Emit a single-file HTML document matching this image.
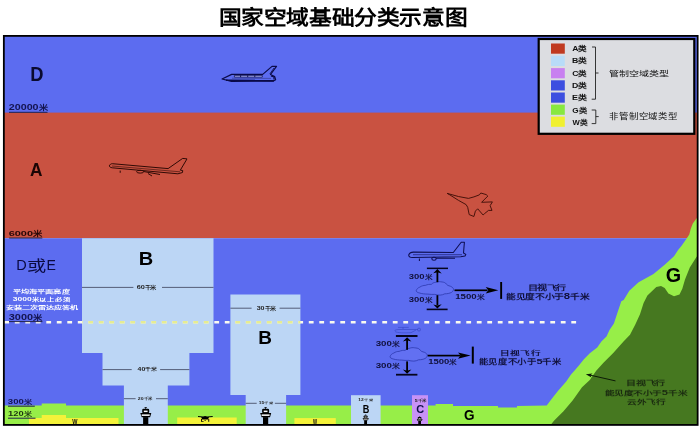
<!DOCTYPE html>
<html lang="zh-CN"><head><meta charset="utf-8">
<style>
html,body{margin:0;padding:0;background:#fff;}
body{width:700px;height:430px;overflow:hidden;font-family:"Liberation Sans",sans-serif;}
svg{display:block;will-change:transform;}
</style></head><body>
<svg width="700" height="430" viewBox="0 0 700 430">
<defs>
  <g id="tower">
    <rect x="-1.2" y="-17" width="2.4" height="0.7" fill="#000"/>
    <rect x="-0.4" y="-16.6" width="0.8" height="1.5" fill="#000"/>
    <rect x="-3.5" y="-15.3" width="7" height="4.6" rx="1.4" fill="#000"/>
    <rect x="-1.9" y="-13.4" width="3.8" height="1.5" fill="#fff"/>
    <path d="M-5.4,-10.9 L5.6,-10.9 L4.4,-6.8 L-4,-6.8 Z" fill="#000"/>
    <rect x="-4" y="-9.6" width="8" height="1.5" fill="#fff"/>
    <rect x="-2.6" y="-6.9" width="5.2" height="7" fill="#000"/>
  </g>
</defs>
<!-- bands -->
<rect x="4" y="36" width="694" height="77" fill="#5c6cf0"/>
<rect x="4" y="112.6" width="694" height="125.6" fill="#c95241"/>
<rect x="4" y="238.2" width="694" height="187" fill="#5c6cf0"/>
<!-- ground green -->
<path d="M4,405.6 L41.7,405.6 L41.7,403.5 L66,403.5 L66,405.6 L435.6,405.6 L435.6,404 L453,404 L453,406 L498,406 L498,407.6 L517,407.6 L517,406 L546.7,405.4 L551.4,399.3 L557.9,390.9 L566.2,381.6 L571.2,374.2 L574.6,370.4 L579.3,364.9 L583.9,359.3 L589.8,353.3 L597.2,347.6 L601.4,341.6 L606.5,336.5 L609.5,330 L613.9,323.5 L617.6,312.3 L621.3,301.2 L623.7,300 L629.3,290.7 L638.6,282.3 L653.5,274 L664.7,264.7 L674,256.3 L678.1,250 L681.4,246 L686.5,238.8 L689.3,234.6 L690.7,229 L692.8,223.4 L696.5,218.6 L698,217 L698,425 L4,425 Z" fill="#97ee48"/>
<!-- dark green -->
<path d="M551.4,424 L554.2,420.6 L563.5,411.3 L572.8,400.2 L582,387.2 L589.8,380 L596.2,370.7 L603.7,362.6 L613,353.3 L623.5,341.6 L630,334.7 L635.3,324.4 L640,314.2 L643.6,303 L647.4,295.6 L651.6,291.6 L656.3,287 L661,286 L664.7,287.9 L668.4,293.5 L674,296.3 L679.5,294.4 L682.3,288.8 L685,279.5 L689.8,267.4 L696.3,257.2 L698,255 L698,425 L551.4,425 Z" fill="#467820"/>
<!-- yellow W -->
<path d="M29,418 L41.7,418 L41.7,415 L66,415 L66,418 L118.5,418 L118.5,424 L29,424 Z" fill="#f4f23a"/>
<rect x="177.2" y="417.5" width="59.5" height="7" fill="#f4f23a"/>
<rect x="294.4" y="418.1" width="41.4" height="6" fill="#f4f23a"/>
<!-- B1 -->
<path d="M82,238.2 L213.5,238.2 L213.5,353 L189.4,353 L189.4,385.5 L167.8,385.5 L167.8,424 L123.9,424 L123.9,385.5 L102.5,385.5 L102.5,353 L82,353 Z" fill="#bcd6f5"/>
<!-- B2 -->
<path d="M230.4,294.6 L300.4,294.6 L300.4,395 L286.1,395 L286.1,424 L245.7,424 L245.7,395 L230.4,395 Z" fill="#bcd6f5"/>
<!-- small B, C -->
<rect x="351" y="395.2" width="29.6" height="29" fill="#bcd6f5"/>
<rect x="412" y="395.2" width="16" height="29" fill="#c892f6"/>
<!-- dashed 3000 line -->
<line x1="4.3" y1="322.2" x2="577" y2="322.2" stroke="#fafaf0" stroke-width="2.6" stroke-dasharray="4.8 5.7"/>
<!-- km lines -->
<g stroke="#48506a" stroke-width="0.9">
<path d="M82,287.4 H133.4 M162,287.4 H213.5"/>
<path d="M102.5,369.6 H131.7 M160.1,369.6 H189.4"/>
<path d="M123.9,398.7 H135.6 M156,398.7 H167.8"/>
<path d="M230.4,308.2 H251.6 M279.6,308.2 H300.4"/>
<path d="M245.7,403.3 H256.7 M274.9,403.3 H286.1"/>
</g>
<!-- underlines -->
<g stroke="#20204a" stroke-width="1">
<path d="M9,112.3 H47.5"/>
<path d="M9.2,238 H42.3"/>
<path d="M9,321.6 H42.4"/>
<path d="M8,406.2 H34.8"/>
<path d="M8,418.2 H35.5"/>
</g>
<!-- yellow dashes on B -->
<clipPath id="bclip"><rect x="82" y="318" width="131.5" height="8"/><rect x="230.4" y="318" width="70" height="8"/></clipPath>
<line x1="4.3" y1="322.2" x2="577" y2="322.2" stroke="#e6ec92" stroke-width="2.6" stroke-dasharray="4.8 5.7" clip-path="url(#bclip)"/>
<!-- shuttle -->
<g fill="none" stroke="#0a0a48" stroke-width="1.2" stroke-linejoin="round">
 <path d="M222,79 L231.7,74.4 L262.7,74.4 L272,66.4 L276.5,66.4 L270.5,74.5 L274.7,76.6 L275.6,79.7 L273,81.2 L231.5,81.3 Z"/>
 <path d="M234.4,75.4 H262.3 V77.1 H234.4 Z" fill="#aeb6f6" stroke-width="0.7"/>
 <path d="M240.6,75.3 V77.1 M247.7,75.3 V77.1 M254.8,75.3 V77.1" stroke-width="0.9"/>
 <path d="M226,80.2 L274,80.6" stroke-width="1.6"/>
 <path d="M232,78.2 L271,78.4" stroke-width="0.5" stroke="#2a2a70"/>
 <path d="M274,68 L269.8,74" stroke-width="0.8"/>
 <path d="M271,76 L274,77 L274,79.5" stroke-width="1.2"/>
</g>
<!-- airliner on red -->
<g fill="none" stroke="#300a05" stroke-width="1" stroke-linejoin="round">
 <path d="M109.3,165.9 C110,164.3 111,163.7 112.3,163.7 L168.1,168.6 L182.7,158.4 L187,158.9 L180.3,170.2 L182.7,170.5 L182.5,172.5 L177.9,173.8 L112.3,167.8 C110.5,167.5 109.3,166.8 109.3,165.9 Z"/>
 <path d="M112,166 L180,171.8" stroke-width="0.6"/>
 <ellipse cx="140.2" cy="171.7" rx="3.6" ry="1.4"/>
 <path d="M143.5,171.5 L160,174.5 M148,173.5 L152,176 M120.2,170.6 V172.8"/>
</g>
<!-- fighter -->
<path d="M447.2,193.4 L458.4,196.5 L468.5,198.4 L473.9,196.9 L479.3,194.9 L480.8,193 L486.2,194.6 L487.8,196.1 L481.6,202.3 L492.4,201.9 L490.1,205.7 L492,210.4 L488.5,210.4 L484.7,213.5 L483.1,215 L477.7,208.8 L475.4,211.1 L473.9,216.5 L469.2,214.6 L467.7,207.3 L466.1,204.6 L458.4,200.3 L449.9,194.9 Z" fill="none" stroke="#3a0c06" stroke-width="0.9" stroke-linejoin="round"/>
<!-- airliner on blue -->
<g fill="none" stroke="#0e0e50" stroke-width="1.05" stroke-linejoin="round">
 <path d="M408.7,254.9 C409.5,253 411,252.1 413.4,252.1 L453.3,252.5 L461.2,242.3 L464.4,242.3 L463.5,253 L465.8,254.4 L465,256 L460.7,256.7 L412.4,257.6 C410.5,257.4 408.7,256.3 408.7,254.9 Z"/>
 <path d="M413,254.7 L462,254.7" stroke-width="0.6"/>
 <ellipse cx="434" cy="258.8" rx="2.2" ry="1.5"/>
 <path d="M436,258.3 L455,258.3 M419.4,258.6 V261"/>
</g>
<!-- helicopter -->
<g fill="none" stroke="#2c3ab8" stroke-width="0.6" opacity="0.8">
 <path d="M398,327.4 H408.7 M403,327.4 V329 M394.5,331 C395,329.8 397,329.5 400,329.5 L418,329.5 M395,331.5 C397,333 405,333 411,332.7 L416,330"/>
 <circle cx="419" cy="329.6" r="1.5"/>
</g>
<!-- drone -->
<g fill="#000">
 <path d="M198,416 L203,416.6 L205.1,416 L207.2,416.6 L212.7,416 L212.7,416.9 L209,417.3 L208,419.6 L202.2,419.6 L201.2,417.3 L198,416.9 Z"/>
 <rect x="201.1" y="419" width="0.9" height="2.8"/>
 <rect x="208.3" y="419" width="0.9" height="2.8"/>
 <rect x="202" y="421" width="1.6" height="0.7"/>
 <rect x="204.5" y="420.2" width="1.3" height="0.7"/>
</g>
<!-- cloud groups -->
<path id="cloud" d="M390,356.8 C390.5,355 392,353.6 393.7,353.1 C395.5,351.8 397.5,351.4 399.1,351.4 C401.5,350.4 403.5,350.2 405.1,350.4 C406.3,349 407.8,348.5 409.2,348.4 C411,347.6 412.8,347.5 414.5,347.8 C416.5,348 418.2,348.3 419.2,349 C420,350 420.8,350.9 421.6,351.4 C422.6,351.8 423.7,352 424.6,352.4 C426.3,353.2 427.3,354.3 427.3,355.4 C427,356.9 426.3,357.8 425.3,358.4 C423.3,359.4 421,359.8 418.6,359.8 C417,360.6 415.5,361.1 413.9,361.1 C411.8,361.1 410,360.8 408.5,360.4 C406,360.5 404,360.4 401.8,360.1 C398.5,360 396,359.8 393.7,359.1 C391.5,358.6 390,357.8 390,356.8 Z" fill="#6270f2" stroke="#2a36aa" stroke-width="0.75"/>
<use href="#cloud" transform="translate(26.2,-66)"/>
<g fill="#000" stroke="none">
 <rect x="426.9" y="267.6" width="21.1" height="1.5" fill="#05051e"/>
 <rect x="426.7" y="308.6" width="20.9" height="1.6" fill="#05051e"/>
 <rect x="436.5" y="272" width="1.8" height="10.2"/>
 <path d="M437.4,269.1 L441.7,273.5 L437.4,272.2 L433.3,273.3 Z"/>
 <rect x="436.5" y="295.2" width="1.8" height="10"/>
 <path d="M437.4,308.6 L441.7,304.3 L437.4,305.6 L433.3,304.4 Z"/>
 <rect x="454.5" y="289.45" width="33" height="1.7"/>
 <path d="M498.3,290.3 L485.7,287.1 L488.3,290.3 L485.7,293.4 Z"/>
 <rect x="500.2" y="282" width="1.9" height="16.9"/>

 <rect x="395.9" y="335" width="21.6" height="2" fill="#05051e"/>
 <rect x="396" y="373.8" width="21.4" height="1.8" fill="#05051e"/>
 <rect x="406.2" y="340" width="1.8" height="9.8"/>
 <path d="M407.1,337.2 L411.4,341.6 L407.1,340.3 L402.9,341.4 Z"/>
 <rect x="406.2" y="361.4" width="1.8" height="9.6"/>
 <path d="M407.1,373.7 L411.4,369.4 L407.1,370.7 L402.9,369.5 Z"/>
 <rect x="427.7" y="354.75" width="33" height="1.7"/>
 <path d="M470.6,355.6 L458,352.4 L460.6,355.6 L458,358.7 Z"/>
 <rect x="471.8" y="346.6" width="2" height="17"/>
</g>
<!-- mountain arrow -->
<path d="M615.5,380.9 L590,375.1" stroke="#0c1a06" stroke-width="1"/>
<path d="M585.8,374.2 L592.5,373.4 L590.5,375.3 L591.5,377.6 Z" fill="#0c1a06"/>
<!-- towers -->
<use href="#tower" transform="translate(145.7,424)"/>
<use href="#tower" transform="translate(265.6,424)"/>
<use href="#tower" transform="translate(365.6,424) scale(0.55)"/>
<use href="#tower" transform="translate(419.6,424) scale(0.52,0.45)"/>
<!-- frame -->
<rect x="3.85" y="35.9" width="693.8" height="389" fill="none" stroke="#000" stroke-width="1.8"/>
<!-- legend -->
<rect x="538.7" y="39" width="155.6" height="94.8" fill="#dcdde1" stroke="#000" stroke-width="2.2"/>
<rect x="551" y="43.5" width="13.8" height="10.2" fill="#c03a20"/>
<rect x="551" y="55.8" width="13.8" height="10.2" fill="#b8dcf8"/>
<rect x="551" y="68.1" width="13.8" height="10.2" fill="#c880f0"/>
<rect x="551" y="80.3" width="13.8" height="10.2" fill="#3c4ee0"/>
<rect x="551" y="92.5" width="13.8" height="10.2" fill="#3c4ee0"/>
<rect x="551" y="104.6" width="13.8" height="10.2" fill="#88e840"/>
<rect x="551" y="116.6" width="13.8" height="10.2" fill="#f0f030"/>
<path d="M592,47 H595.5 V99.2 H591.7 M595.5,73 H598.5 M591.7,110 H595.8 V123.6 H591.7 M595.8,116.6 H598.7" fill="none" stroke="#222" stroke-width="0.9"/>

<text x="218.50" y="24.50" font-size="20.11" font-weight="bold" style="font-family:'Liberation Serif',serif" fill="#000" textLength="248.83" lengthAdjust="spacingAndGlyphs">国家空域基础分类示意图</text>
<text x="30.25" y="80.75" font-size="19.89" font-weight="bold" style="font-family:'Liberation Sans',sans-serif" fill="#0a0a30" textLength="13.25" lengthAdjust="spacingAndGlyphs">D</text>
<text x="8.75" y="109.85" font-size="8.37" font-weight="bold" style="font-family:'Liberation Sans',sans-serif" fill="#141450" textLength="38.82" lengthAdjust="spacingAndGlyphs">20000<tspan font-size="7.12">米</tspan></text>
<text x="30.00" y="176.20" font-size="18.02" font-weight="bold" style="font-family:'Liberation Sans',sans-serif" fill="#1a0505" textLength="12.47" lengthAdjust="spacingAndGlyphs">A</text>
<text x="8.70" y="236.30" font-size="8.11" font-weight="bold" style="font-family:'Liberation Sans',sans-serif" fill="#250606" textLength="33.85" lengthAdjust="spacingAndGlyphs">6000<tspan font-size="6.89">米</tspan></text>
<text x="16.15" y="270.15" font-size="14.09" font-weight="normal" style="font-family:'Liberation Sans',sans-serif" fill="#0a0a40" textLength="10.48" lengthAdjust="spacingAndGlyphs">D</text>
<text x="26.75" y="270.65" font-size="15.04" font-weight="normal" style="font-family:'Liberation Sans',sans-serif" fill="#0a0a40" textLength="19.22" lengthAdjust="spacingAndGlyphs">或</text>
<text x="46.45" y="270.15" font-size="14.09" font-weight="normal" style="font-family:'Liberation Sans',sans-serif" fill="#0a0a40" textLength="9.39" lengthAdjust="spacingAndGlyphs">E</text>
<text x="13.35" y="293.00" font-size="5.12" font-weight="bold" style="font-family:'Liberation Sans',sans-serif" fill="#fff" textLength="56.20" lengthAdjust="spacingAndGlyphs">平均海平面高度</text>
<text x="12.75" y="300.95" font-size="5.54" font-weight="bold" style="font-family:'Liberation Sans',sans-serif" fill="#fff" textLength="57.57" lengthAdjust="spacingAndGlyphs">3000<tspan font-size="4.77">米以上必须</tspan></text>
<text x="5.55" y="308.70" font-size="5.00" font-weight="bold" style="font-family:'Liberation Sans',sans-serif" fill="#fff" textLength="72.76" lengthAdjust="spacingAndGlyphs">安装二次雷达应答机</text>
<text x="8.75" y="319.75" font-size="8.36" font-weight="bold" style="font-family:'Liberation Sans',sans-serif" fill="#141450" textLength="33.51" lengthAdjust="spacingAndGlyphs">3000<tspan font-size="7.11">米</tspan></text>
<text x="7.85" y="404.15" font-size="7.03" font-weight="bold" style="font-family:'Liberation Sans',sans-serif" fill="#141450" textLength="24.15" lengthAdjust="spacingAndGlyphs">300<tspan font-size="5.98">米</tspan></text>
<text x="8.00" y="415.80" font-size="6.82" font-weight="bold" style="font-family:'Liberation Sans',sans-serif" fill="#1a3010" textLength="23.91" lengthAdjust="spacingAndGlyphs">120<tspan font-size="5.80">米</tspan></text>
<text x="138.75" y="264.85" font-size="18.45" font-weight="bold" style="font-family:'Liberation Sans',sans-serif" fill="#000" textLength="14.46" lengthAdjust="spacingAndGlyphs">B</text>
<text x="136.65" y="289.40" font-size="5.17" font-weight="bold" style="font-family:'Liberation Sans',sans-serif" fill="#222" textLength="19.50" lengthAdjust="spacingAndGlyphs">60<tspan font-size="4.45">千米</tspan></text>
<text x="137.60" y="371.35" font-size="4.84" font-weight="bold" style="font-family:'Liberation Sans',sans-serif" fill="#222" textLength="19.22" lengthAdjust="spacingAndGlyphs">40<tspan font-size="4.16">千米</tspan></text>
<text x="137.85" y="399.90" font-size="3.33" font-weight="bold" style="font-family:'Liberation Sans',sans-serif" fill="#222" textLength="14.97" lengthAdjust="spacingAndGlyphs">20<tspan font-size="2.86">千米</tspan></text>
<text x="256.65" y="310.00" font-size="5.17" font-weight="bold" style="font-family:'Liberation Sans',sans-serif" fill="#222" textLength="18.81" lengthAdjust="spacingAndGlyphs">30<tspan font-size="4.45">千米</tspan></text>
<text x="258.25" y="344.05" font-size="18.45" font-weight="bold" style="font-family:'Liberation Sans',sans-serif" fill="#000" textLength="13.69" lengthAdjust="spacingAndGlyphs">B</text>
<text x="258.65" y="404.45" font-size="2.96" font-weight="bold" style="font-family:'Liberation Sans',sans-serif" fill="#222" textLength="15.59" lengthAdjust="spacingAndGlyphs">15<tspan font-size="2.54">千米</tspan></text>
<text x="358.35" y="401.05" font-size="2.92" font-weight="bold" style="font-family:'Liberation Sans',sans-serif" fill="#222" textLength="15.37" lengthAdjust="spacingAndGlyphs">12<tspan font-size="2.51">千米</tspan></text>
<text x="362.70" y="412.90" font-size="10.00" font-weight="bold" style="font-family:'Liberation Sans',sans-serif" fill="#000" textLength="6.59" lengthAdjust="spacingAndGlyphs">B</text>
<text x="414.65" y="402.40" font-size="3.37" font-weight="bold" style="font-family:'Liberation Sans',sans-serif" fill="#222" textLength="12.29" lengthAdjust="spacingAndGlyphs">5<tspan font-size="2.90">千米</tspan></text>
<text x="416.30" y="413.20" font-size="10.15" font-weight="bold" style="font-family:'Liberation Sans',sans-serif" fill="#10104a" textLength="7.93" lengthAdjust="spacingAndGlyphs">C</text>
<text x="72.20" y="423.70" font-size="6.50" font-weight="bold" style="font-family:'Liberation Sans',sans-serif" fill="#111" textLength="5.21" lengthAdjust="spacingAndGlyphs">W</text>
<text x="313.00" y="423.70" font-size="6.50" font-weight="bold" style="font-family:'Liberation Sans',sans-serif" fill="#111" textLength="4.08" lengthAdjust="spacingAndGlyphs">W</text>
<text x="463.90" y="420.25" font-size="14.59" font-weight="bold" style="font-family:'Liberation Sans',sans-serif" fill="#000" textLength="10.55" lengthAdjust="spacingAndGlyphs">G</text>
<text x="665.75" y="282.00" font-size="20.16" font-weight="bold" style="font-family:'Liberation Sans',sans-serif" fill="#000" textLength="15.40" lengthAdjust="spacingAndGlyphs">G</text>
<text x="408.75" y="279.35" font-size="6.91" font-weight="bold" style="font-family:'Liberation Sans',sans-serif" fill="#10103a" textLength="24.07" lengthAdjust="spacingAndGlyphs">300<tspan font-size="5.53">米</tspan></text>
<text x="408.75" y="302.45" font-size="6.91" font-weight="bold" style="font-family:'Liberation Sans',sans-serif" fill="#10103a" textLength="24.07" lengthAdjust="spacingAndGlyphs">300<tspan font-size="5.53">米</tspan></text>
<text x="455.20" y="299.35" font-size="6.91" font-weight="bold" style="font-family:'Liberation Sans',sans-serif" fill="#10103a" textLength="29.88" lengthAdjust="spacingAndGlyphs">1500<tspan font-size="5.53">米</tspan></text>
<text x="527.75" y="289.80" font-size="6.35" font-weight="bold" style="font-family:'Liberation Sans',sans-serif" fill="#10103a" textLength="38.20" lengthAdjust="spacingAndGlyphs">目视飞行</text>
<text x="506.15" y="299.35" font-size="8.27" font-weight="bold" style="font-family:'Liberation Sans',sans-serif" fill="#10103a" textLength="83.09" lengthAdjust="spacingAndGlyphs"><tspan font-size="7.11">能见度不小于</tspan>8<tspan font-size="7.11">千米</tspan></text>
<text x="375.65" y="346.25" font-size="6.91" font-weight="bold" style="font-family:'Liberation Sans',sans-serif" fill="#10103a" textLength="24.65" lengthAdjust="spacingAndGlyphs">300<tspan font-size="5.53">米</tspan></text>
<text x="375.65" y="368.00" font-size="6.94" font-weight="bold" style="font-family:'Liberation Sans',sans-serif" fill="#10103a" textLength="24.71" lengthAdjust="spacingAndGlyphs">300<tspan font-size="5.55">米</tspan></text>
<text x="428.20" y="363.50" font-size="6.94" font-weight="bold" style="font-family:'Liberation Sans',sans-serif" fill="#10103a" textLength="29.28" lengthAdjust="spacingAndGlyphs">1500<tspan font-size="5.55">米</tspan></text>
<text x="500.45" y="354.70" font-size="5.77" font-weight="bold" style="font-family:'Liberation Sans',sans-serif" fill="#10103a" textLength="40.12" lengthAdjust="spacingAndGlyphs">目视飞行</text>
<text x="478.65" y="364.30" font-size="7.91" font-weight="bold" style="font-family:'Liberation Sans',sans-serif" fill="#10103a" textLength="83.06" lengthAdjust="spacingAndGlyphs"><tspan font-size="6.81">能见度不小于</tspan>5<tspan font-size="6.81">千米</tspan></text>
<text x="626.15" y="385.40" font-size="6.20" font-weight="bold" style="font-family:'Liberation Sans',sans-serif" fill="#1a2a10" textLength="38.97" lengthAdjust="spacingAndGlyphs">目视飞行</text>
<text x="604.65" y="394.65" font-size="7.06" font-weight="bold" style="font-family:'Liberation Sans',sans-serif" fill="#1a2a10" textLength="82.52" lengthAdjust="spacingAndGlyphs"><tspan font-size="6.07">能见度不小于</tspan>5<tspan font-size="6.07">千米</tspan></text>
<text x="627.15" y="404.05" font-size="6.05" font-weight="bold" style="font-family:'Liberation Sans',sans-serif" fill="#1a2a10" textLength="38.40" lengthAdjust="spacingAndGlyphs">云外飞行</text>
<text x="572.15" y="51.35" font-size="7.11" font-weight="bold" style="font-family:'Liberation Sans',sans-serif" fill="#111" textLength="14.67" lengthAdjust="spacingAndGlyphs">A<tspan font-size="7.11">类</tspan></text>
<text x="571.90" y="63.20" font-size="6.96" font-weight="bold" style="font-family:'Liberation Sans',sans-serif" fill="#111" textLength="15.17" lengthAdjust="spacingAndGlyphs">B<tspan font-size="6.96">类</tspan></text>
<text x="572.15" y="75.60" font-size="6.96" font-weight="bold" style="font-family:'Liberation Sans',sans-serif" fill="#111" textLength="14.85" lengthAdjust="spacingAndGlyphs">C<tspan font-size="6.96">类</tspan></text>
<text x="571.90" y="88.20" font-size="6.96" font-weight="bold" style="font-family:'Liberation Sans',sans-serif" fill="#111" textLength="15.17" lengthAdjust="spacingAndGlyphs">D<tspan font-size="6.96">类</tspan></text>
<text x="571.90" y="100.40" font-size="6.96" font-weight="bold" style="font-family:'Liberation Sans',sans-serif" fill="#111" textLength="15.00" lengthAdjust="spacingAndGlyphs">E<tspan font-size="6.96">类</tspan></text>
<text x="572.15" y="112.70" font-size="6.96" font-weight="bold" style="font-family:'Liberation Sans',sans-serif" fill="#111" textLength="14.70" lengthAdjust="spacingAndGlyphs">G<tspan font-size="6.96">类</tspan></text>
<text x="572.40" y="124.80" font-size="6.96" font-weight="bold" style="font-family:'Liberation Sans',sans-serif" fill="#111" textLength="15.09" lengthAdjust="spacingAndGlyphs">W<tspan font-size="6.96">类</tspan></text>
<text x="609.30" y="75.80" font-size="7.13" font-weight="normal" style="font-family:'Liberation Sans',sans-serif" fill="#111" textLength="59.26" lengthAdjust="spacingAndGlyphs">管制空域类型</text>
<text x="608.90" y="118.90" font-size="7.60" font-weight="normal" style="font-family:'Liberation Sans',sans-serif" fill="#111" textLength="69.25" lengthAdjust="spacingAndGlyphs">非管制空域类型</text>
</svg>
</body></html>
